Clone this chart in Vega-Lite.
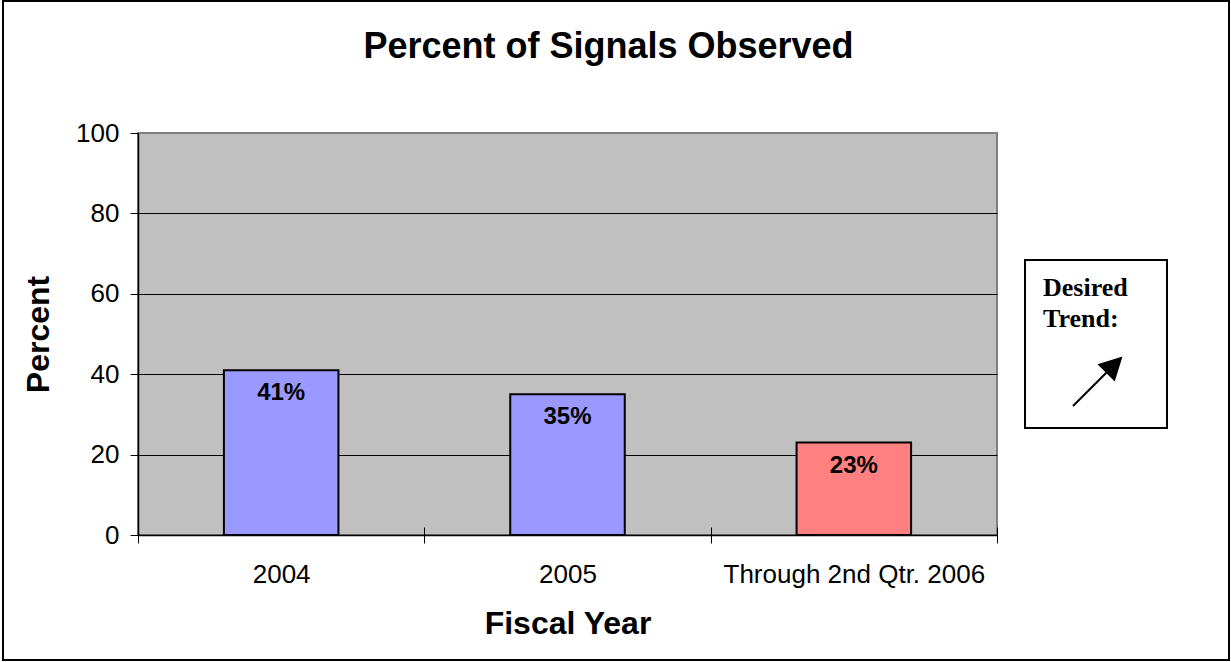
{
  "$schema": "https://vega.github.io/schema/vega-lite/v6.json",
  "width": 859,
  "height": 402,
  "autosize": {"type": "none"},
  "padding": {"left": 138, "top": 133, "right": 234, "bottom": 127},
  "background": "white",
  "view": {"fill": "#C0C0C0", "stroke": "#808080", "strokeWidth": 2},
  "title": {
    "text": "Percent of Signals Observed",
    "font": "Liberation Sans",
    "fontSize": 36,
    "fontWeight": "bold",
    "color": "black",
    "anchor": "middle",
    "frame": "group",
    "dx": 41,
    "offset": -65
  },
  "config": {
    "axis": {
      "labelFont": "Liberation Sans",
      "labelFontSize": 26,
      "labelColor": "black",
      "titleFont": "Liberation Sans",
      "titleFontSize": 32,
      "titleFontWeight": "bold",
      "titleColor": "black",
      "tickColor": "black",
      "tickSize": 8,
      "domainColor": "black",
      "domainWidth": 1.5
    }
  },
  "layer": [
    {
      "data": {
        "values": [
          {"year": "2004", "percent": 41, "label": "41%", "group": "past"},
          {"year": "2005", "percent": 35, "label": "35%", "group": "past"},
          {"year": "Through 2nd Qtr. 2006", "percent": 23, "label": "23%", "group": "current"}
        ]
      },
      "encoding": {
        "y": {
          "field": "percent",
          "type": "quantitative",
          "scale": {"domain": [0, 100], "nice": false},
          "axis": {
            "title": "Percent",
            "values": [0, 20, 40, 60, 80, 100],
            "labelPadding": 11,
            "titlePadding": 20,
            "grid": true,
            "gridColor": {"condition": {"test": "datum.value === 100", "value": "#808080"}, "value": "black"},
            "gridWidth": 1
          }
        }
      },
      "layer": [
        {
          "mark": {"type": "bar", "width": {"band": 0.4}, "stroke": "black", "strokeWidth": 2},
          "encoding": {
            "x": {
              "field": "year",
              "type": "nominal",
              "sort": null,
              "scale": {"paddingInner": 0, "paddingOuter": 0},
              "axis": {
                "title": "Fiscal Year",
                "orient": "bottom",
                "labelAngle": 0,
                "labelLimit": 500,
                "tickBand": "extent",
                "labelPadding": 18,
                "titlePadding": 21,
                "grid": false
              }
            },
            "color": {
              "field": "group",
              "type": "nominal",
              "scale": {"domain": ["past", "current"], "range": ["#9999FF", "#FF8080"]},
              "legend": null
            }
          }
        },
        {
          "mark": {
            "type": "text",
            "baseline": "alphabetic",
            "dy": 30,
            "font": "Liberation Sans",
            "fontSize": 24,
            "fontWeight": "bold",
            "color": "black"
          },
          "encoding": {
            "x": {
              "field": "year",
              "type": "nominal",
              "sort": null,
              "axis": {
                "title": null,
                "orient": "bottom",
                "labels": false,
                "domain": false,
                "grid": false,
                "tickBand": "extent",
                "tickSize": -8
              }
            },
            "text": {"field": "label", "type": "nominal"}
          }
        }
      ],
      "resolve": {"axis": {"x": "independent"}}
    },
    {
      "data": {"values": [{"trend": "up", "frame": 0}]},
      "mark": {"type": "point", "filled": true, "opacity": 0},
      "encoding": {
        "shape": {
          "field": "trend",
          "type": "nominal",
          "scale": {"range": ["M-1,1L0.45,-0.45M1,-1L0.72,-0.1L0.1,-0.72Z"]},
          "legend": {
            "title": ["Desired", "Trend:"],
            "titleFont": "Liberation Serif",
            "titleFontSize": 26,
            "titleFontWeight": "bold",
            "titleColor": "black",
            "titleLineHeight": 31,
            "titlePadding": 22,
            "orient": "none",
            "legendX": 887,
            "legendY": 127,
            "padding": 18,
            "strokeColor": "black",
            "fillColor": "white",
            "symbolSize": 2304,
            "symbolOffset": 29,
            "symbolStrokeWidth": 2,
            "symbolFillColor": "black",
            "symbolStrokeColor": "black",
            "symbolOpacity": 1,
            "labelExpr": "'\u00a0'",
            "labelFontSize": 26,
            "labelOffset": 27,
            "encode": {
              "legend": {"update": {"strokeWidth": {"value": 2}}},
              "title": {"update": {"dy": {"value": -3}}},
              "symbols": {"update": {"stroke": {"value": "black"}, "strokeWidth": {"value": 2}, "fill": {"value": "black"}, "opacity": {"value": 1}}}
            }
          }
        },
        "color": {
          "field": "frame",
          "type": "quantitative",
          "scale": {"domain": [0, 1], "range": ["rgba(0,0,0,0)", "rgba(0,0,0,0)"]},
          "legend": {
            "orient": "none",
            "legendX": -135,
            "legendY": -132,
            "direction": "horizontal",
            "title": null,
            "labels": false,
            "labelExpr": "''",
            "tickCount": 0,
            "padding": 0,
            "gradientLength": 1226,
            "gradientThickness": 659,
            "gradientStrokeColor": "black",
            "gradientStrokeWidth": 2
          }
        }
      }
    }
  ]
}
